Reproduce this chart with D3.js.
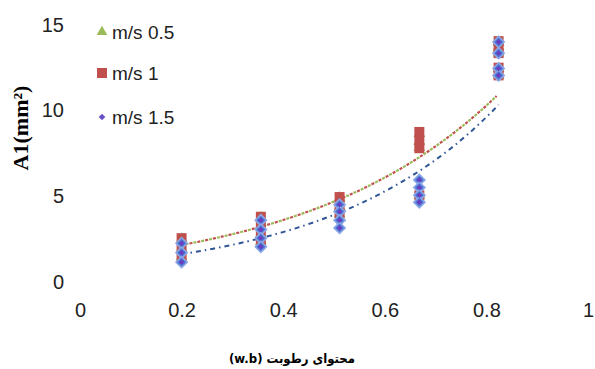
<!DOCTYPE html>
<html>
<head>
<meta charset="utf-8">
<script src="https://cdn.jsdelivr.net/npm/d3@7"></script>
<style>
  html, body { margin: 0; padding: 0; background: #fff; }
  svg { display: block; }
</style>
</head>
<body>
<svg id="chart" width="595" height="369"></svg>
<script>
// Moisture content levels (wet basis) at which samples were measured
const moisture = [0.2, 0.356, 0.511, 0.668, 0.824];

// A1 area (mm²) replicate readings per moisture level, one list per speed
const speed05 = [
  [2.45, 1.9, 1.4],
  [3.7, 3.2, 2.75, 2.3],
  [4.85, 4.3, 3.9],
  [8.6, 8.15, 7.8, 5.0],
  [13.95, 13.6, 13.3, 12.4, 12.0]
];
const speed1 = [
  [2.5, 1.95, 1.4],
  [3.75, 3.25, 2.75, 2.3],
  [4.9, 4.4, 3.95],
  [8.7, 8.2, 7.75, 5.0],
  [14.0, 13.65, 13.3, 12.45, 12.0]
];
const speed15 = [
  [2.2, 1.65, 1.1],
  [3.55, 3.0, 2.5, 2.0],
  [4.45, 4.05, 3.55, 3.1],
  [5.9, 5.45, 5.0, 4.6],
  [13.95, 13.3, 12.4, 12.0]
];

// Exponential trend lines y = a·e^(b·x): [a, b]
const trend05 = [1.238, 2.641];
const trend1 = [1.238, 2.641];
const trend15 = [0.854, 3.02];

const xTicks = [0, 0.2, 0.4, 0.6, 0.8, 1];
const yTicks = [0, 5, 10, 15];
const legendLabels = ["m/s 0.5", "m/s 1", "m/s 1.5"];
const xTitle = "(w.b) محتوای رطوبت";
const yTitle = "A1(mm²)";

const svg = d3.select("#chart");

const x = d3.scaleLinear().domain([0, 1]).range([80, 588]);
const y = d3.scaleLinear().domain([0, 15]).range([281, 24]);

const tickFont = "'Liberation Sans', Arial, sans-serif";

// X axis (labels only, no line)
const xAxis = svg.append("g")
  .attr("transform", "translate(0,310)")
  .call(d3.axisBottom(x).tickValues(xTicks).tickSize(0).tickPadding(0)
    .tickFormat(d => d3.format("~g")(d)));
xAxis.select(".domain").remove();
xAxis.selectAll("text")
  .attr("dy", "0.36em")
  .attr("font-family", tickFont)
  .attr("font-size", 20)
  .attr("fill", "#222");

// Y axis (labels only, no line)
const yAxis = svg.append("g")
  .attr("transform", "translate(64,0)")
  .call(d3.axisLeft(y).tickValues(yTicks).tickSize(0).tickPadding(0));
yAxis.select(".domain").remove();
yAxis.selectAll("text")
  .attr("dy", "0.36em")
  .attr("font-family", tickFont)
  .attr("font-size", 20)
  .attr("fill", "#222");

// Trend lines
function trendPath(coef, x0, x1) {
  const pts = d3.range(0, 61).map(i => {
    const xv = x0 + (x1 - x0) * i / 60;
    return [xv, coef[0] * Math.exp(coef[1] * xv)];
  });
  return d3.line().x(d => x(d[0])).y(d => y(d[1]))(pts);
}

const trends = svg.append("g").attr("fill", "none");
trends.append("path")
  .attr("d", trendPath(trend15, 0.2, 0.824))
  .attr("stroke", "#2f5597")
  .attr("stroke-width", 2)
  .attr("stroke-dasharray", "5,4,1.5,4");
trends.append("path")
  .attr("d", trendPath(trend1, 0.2, 0.82))
  .attr("stroke", "#c0504d")
  .attr("stroke-width", 2.2)
  .attr("stroke-dasharray", "3,5");
trends.append("path")
  .attr("d", trendPath(trend05, 0.2, 0.82))
  .attr("stroke", "#9bbb59")
  .attr("stroke-width", 2.2)
  .attr("stroke-dasharray", "3,5")
  .attr("stroke-dashoffset", 4);

function flatten(series) {
  const out = [];
  series.forEach((vals, i) => vals.forEach(v => out.push({ x: moisture[i], v })));
  return out;
}

const triangle = d3.symbol().type(d3.symbolTriangle).size(60);
const square = d3.symbol().type(d3.symbolSquare).size(100);
const diamond = d3.symbol().type(d3.symbolSquare).size(62);
const diamondSmall = d3.symbol().type(d3.symbolSquare).size(14);

// m/s 0.5 — green triangles
svg.append("g").selectAll("path")
  .data(flatten(speed05)).join("path")
  .attr("d", triangle)
  .attr("transform", d => `translate(${x(d.x)},${y(d.v)})`)
  .attr("fill", "#9bbb59");

// m/s 1 — red squares
svg.append("g").selectAll("path")
  .data(flatten(speed1)).join("path")
  .attr("d", square)
  .attr("transform", d => `translate(${x(d.x)},${y(d.v)})`)
  .attr("fill", "#c0504d");

// m/s 1.5 — blue/purple diamonds (squares turned 45°)
const d15 = flatten(speed15);
svg.append("g").selectAll("path")
  .data(d15).join("path")
  .attr("d", diamond)
  .attr("transform", d => `translate(${x(d.x)},${y(d.v)}) rotate(45)`)
  .attr("fill", "#4d72d2")
  .attr("stroke", "#8aa7e6")
  .attr("stroke-width", 1.6);
svg.append("g").selectAll("path")
  .data(d15).join("path")
  .attr("d", diamondSmall)
  .attr("transform", d => `translate(${x(d.x)},${y(d.v)}) rotate(45)`)
  .attr("fill", "#6a3cc0");

// Legend
const legend = svg.append("g").attr("transform", "translate(102,0)");
const legendY = [32, 73, 117];
const legendSyms = [
  { sym: d3.symbol().type(d3.symbolTriangle).size(50), fill: "#9bbb59", rot: 0 },
  { sym: d3.symbol().type(d3.symbolSquare).size(100), fill: "#c0504d", rot: 0 },
  { sym: d3.symbol().type(d3.symbolSquare).size(22), fill: "#6a4fc8", rot: 45 }
];
legendLabels.forEach((lab, i) => {
  legend.append("path")
    .attr("d", legendSyms[i].sym)
    .attr("transform", `translate(0,${legendY[i]}) rotate(${legendSyms[i].rot})`)
    .attr("fill", legendSyms[i].fill);
  legend.append("text")
    .attr("x", 10)
    .attr("y", legendY[i])
    .attr("dy", "0.36em")
    .attr("font-family", tickFont)
    .attr("font-size", 19)
    .attr("fill", "#222")
    .text(lab);
});

// Axis titles
svg.append("text")
  .attr("x", 292)
  .attr("y", 363)
  .attr("text-anchor", "middle")
  .attr("font-family", "'DejaVu Sans Condensed', 'DejaVu Sans', sans-serif")
  .attr("font-weight", "bold")
  .attr("font-size", 13)
  .attr("fill", "#000")
  .text(xTitle);

svg.append("text")
  .attr("transform", "translate(28,128) rotate(-90)")
  .attr("text-anchor", "middle")
  .attr("font-family", "'Liberation Serif', 'Times New Roman', serif")
  .attr("font-weight", "bold")
  .attr("font-size", 22)
  .attr("fill", "#000")
  .text(yTitle);
</script>
</body>
</html>
